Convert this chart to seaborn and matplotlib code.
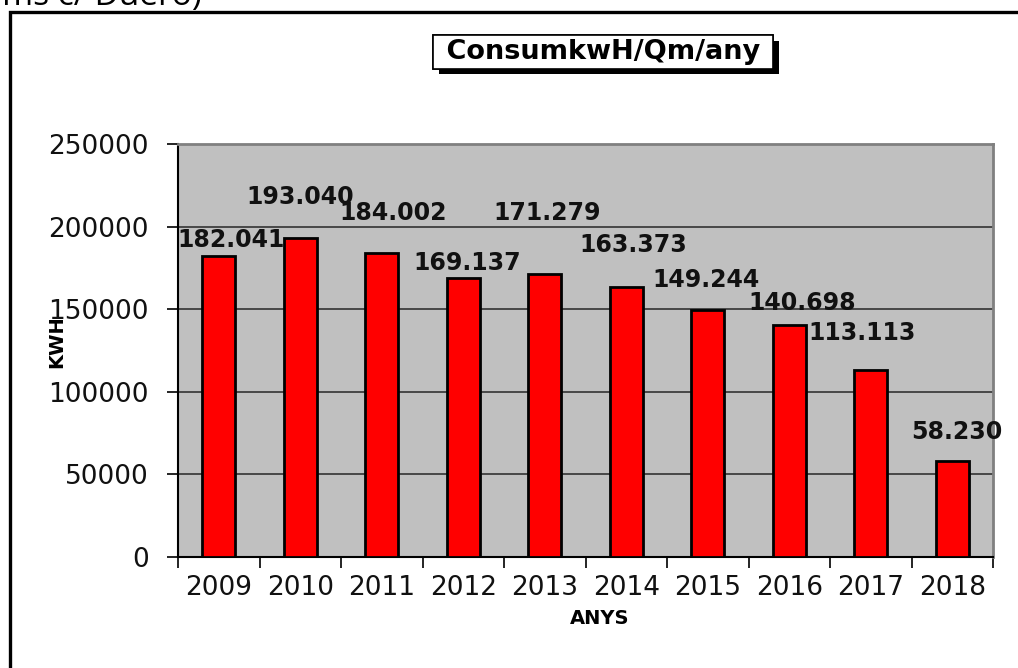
import matplotlib
matplotlib.use("Agg")
import matplotlib.pyplot as plt
import matplotlib.patheffects as pe
from matplotlib.patches import Rectangle
from matplotlib.ticker import FixedLocator, MultipleLocator
import seaborn as sns
import pandas as pd

# ---- data ----
years = ["2009", "2010", "2011", "2012", "2013", "2014", "2015", "2016", "2017", "2018"]
consum_kwh = [182041, 193040, 184002, 169137, 171279, 163373, 149244, 140698, 113113, 58230]
title = "ConsumkwH/Qm/any"
y_label = "KWH"
x_label = "ANYS"
top_fragment = "Consums c/ Duero)"

# label placement offsets (pixels, relative to bar top centre) - layout only
label_dx = [12, 0, 11, 4, 2, 7, -2, 13, -9, 5]
label_dy = [16, 41, 40, 15, 61, 42, 30, 22, 37, 29]

df = pd.DataFrame({"year": years, "kwh": consum_kwh})

W, H = 1018, 668
fig = plt.figure(figsize=(W / 100, H / 100), dpi=100)
fig.patch.set_facecolor("white")

left, right, top, bottom = 178, 993, 144, 557
ax = fig.add_axes([left / W, 1 - bottom / H, (right - left) / W, (bottom - top) / H])
ax.set_facecolor("#C0C0C0")

sns.barplot(data=df, x="year", y="kwh", color="#FF0000", saturation=1,
            width=0.4, edgecolor="black", linewidth=2.0, ax=ax, zorder=3)

ax.set_ylim(0, 250000)
ax.set_xlim(-0.5, len(years) - 0.5)
ax.yaxis.set_major_locator(MultipleLocator(50000))
ax.yaxis.set_major_formatter(matplotlib.ticker.FuncFormatter(lambda v, p: f"{int(v)}"))
ax.grid(axis="y", color="#333333", linewidth=1.2, zorder=1)
ax.grid(axis="x", visible=False)
ax.set_axisbelow(True)

# ticks
ax.tick_params(axis="y", which="major", direction="out", length=8, width=1.2,
               labelsize=19, pad=13, colors="black")
ax.tick_params(axis="x", which="major", length=0, labelsize=19, pad=13)
ax.xaxis.set_minor_locator(FixedLocator([i - 0.5 for i in range(len(years) + 1)]))
ax.tick_params(axis="x", which="minor", direction="out", length=8, width=1.2, color="black")
for lab in ax.get_xticklabels() + ax.get_yticklabels():
    lab.set_color("#111111")

# spines
for s in ["left", "bottom"]:
    ax.spines[s].set_color("black")
    ax.spines[s].set_linewidth(1.5)
for s in ["top", "right"]:
    ax.spines[s].set_color("#808080")
    ax.spines[s].set_linewidth(2)

# axis labels
ax.set_ylabel(y_label, fontsize=14, fontweight="bold", va="center")
ax.yaxis.set_label_coords((57 - left) / (right - left), (bottom - 342) / (bottom - top))
ax.set_xlabel(x_label, fontsize=14, fontweight="bold", va="center")
ax.xaxis.set_label_coords((600 - left) / (right - left), -(619 - bottom) / (bottom - top))

# value labels
for i, v in enumerate(consum_kwh):
    txt = f"{v:,}".replace(",", ".")
    ax.annotate(txt, xy=(i, v), xytext=(label_dx[i], label_dy[i]),
                textcoords="offset pixels", ha="center", va="center",
                fontsize=17, fontweight="bold", color="#111111", zorder=5,
                annotation_clip=False)

# title box with shadow
t = fig.text(603 / W, 1 - 52 / H, " " + title + " ", ha="center", va="center",
             fontsize=19.5, fontweight="bold", color="black",
             bbox=dict(boxstyle="square,pad=0.14", fc="white", ec="black", lw=1.2))
t.get_bbox_patch().set_path_effects([
    pe.withSimplePatchShadow(offset=(4.5, -4), shadow_rgbFace="black", alpha=1),
    pe.Normal()])

# outer frame
frame = Rectangle((10 / W, -0.5), 2, 1 - 12 / H + 0.5, transform=fig.transFigure,
                  fill=False, ec="black", lw=2.4, clip_on=False)
fig.patches.append(frame)

# cropped text fragment at the top (cut off in the original screenshot as well)
fig.text(202 / W, 1 - 5 / H, top_fragment, ha="right", va="baseline",
         fontsize=24, family=["Open Sans", "DejaVu Sans"], color="black")

fig.savefig("out.png", dpi=100)
